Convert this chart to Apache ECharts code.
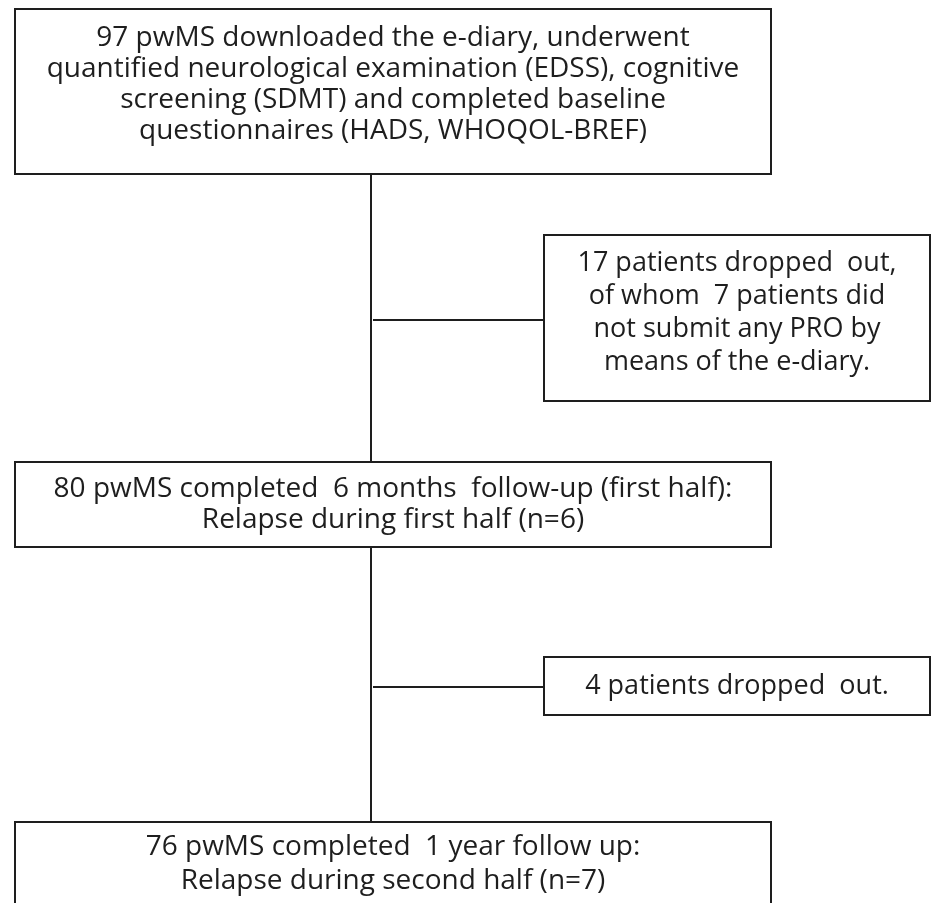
<!DOCTYPE html>
<html>
<head>
<meta charset="utf-8">
<script src="https://cdn.jsdelivr.net/npm/echarts@6/dist/echarts.min.js"></script>
<style>html,body{margin:0;padding:0;background:#fff}#chart{width:932px;height:903px}</style>
</head>
<body>
<div id="chart"></div>
<script>
// ---- data ----
const enrolled = [97, 80, 76];      // pwMS at baseline, 6 months, 1 year
const droppedOut = [17, 4];         // drop-outs in first half, second half
const noPro = 7;                    // drop-outs without any PRO
const relapses = [6, 7];            // relapses first half, second half

const stepLines = [
  [enrolled[0] + " pwMS downloaded the e-diary, underwent",
   "quantified neurological examination (EDSS), cognitive",
   "screening (SDMT) and completed baseline",
   "questionnaires (HADS, WHOQOL-BREF)"],
  [enrolled[1] + " pwMS completed  6 months  follow-up (first half):",
   "Relapse during first half (n=" + relapses[0] + ")"],
  [enrolled[2] + " pwMS completed  1 year follow up:",
   "Relapse during second half (n=" + relapses[1] + ")"]
];
const exitLines = [
  [droppedOut[0] + " patients dropped  out,",
   "of whom  " + noPro + " patients did",
   "not submit any PRO by",
   "means of the e-diary."],
  [droppedOut[1] + " patients dropped  out."]
];

// ---- layout ----
const FONT = '"Open Sans", sans-serif';
const INK = '#1e1e1e';
const stepBoxes = [
  {x: 15, y: 9, w: 756, h: 165, ty: 85, lh: 31, fs: 28, sx: 1},
  {x: 15, y: 462, w: 756, h: 85, ty: 505, lh: 31, fs: 28, sx: 1},
  {x: 15, y: 822, w: 756, h: 120, ty: 864, lh: 34, fs: 28, sx: 1}
];
const exitBoxes = [
  {x: 544, y: 235, w: 386, h: 166, ty: 313, lh: 33, fs: 27, sx: 1, branchY: 320},
  {x: 544, y: 657, w: 386, h: 58, ty: 686, lh: 32, fs: 27, sx: 1, branchY: 687}
];
const spineX = 371;

const els = [];
function box(b, lines) {
  els.push({type: 'rect', shape: {x: b.x, y: b.y, width: b.w, height: b.h},
    style: {fill: '#fff', stroke: INK, lineWidth: 2}, z: 2});
  const cx = b.x + b.w / 2;
  els.push({type: 'text', x: cx, y: b.ty, scaleX: b.sx, z: 3,
    style: {text: lines.join('\n'), font: b.fs + 'px ' + FONT, fill: INK,
      align: 'center', verticalAlign: 'middle', lineHeight: b.lh}});
}
// spine
els.push({type: 'line', shape: {x1: spineX, y1: stepBoxes[0].y + stepBoxes[0].h, x2: spineX, y2: stepBoxes[1].y},
  style: {stroke: INK, lineWidth: 2}, z: 1});
els.push({type: 'line', shape: {x1: spineX, y1: stepBoxes[1].y + stepBoxes[1].h, x2: spineX, y2: stepBoxes[2].y},
  style: {stroke: INK, lineWidth: 2}, z: 1});
exitBoxes.forEach(b => {
  els.push({type: 'line', shape: {x1: spineX + 2, y1: b.branchY, x2: b.x, y2: b.branchY},
    style: {stroke: INK, lineWidth: 2}, z: 1});
});
stepBoxes.forEach((b, i) => box(b, stepLines[i]));
exitBoxes.forEach((b, i) => box(b, exitLines[i]));

const chart = echarts.init(document.getElementById('chart'), null, {renderer: 'canvas'});
chart.setOption({
  backgroundColor: '#fff',
  animation: false,
  graphic: {elements: els}
});
</script>
</body>
</html>
